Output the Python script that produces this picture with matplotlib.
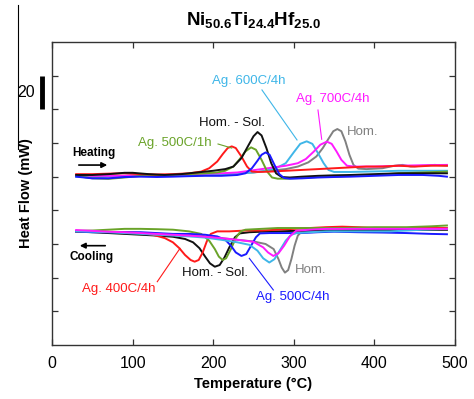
import matplotlib
matplotlib.use("Agg")
import matplotlib.pyplot as plt

plt.rcParams['font.family'] = ['Liberation Sans', 'DejaVu Sans']
plt.rcParams['mathtext.fontset'] = 'custom'
plt.rcParams['mathtext.rm'] = 'Liberation Sans'
plt.rcParams['mathtext.bf'] = 'Liberation Sans:bold'

# ---- heating curves (temperature in C, heat flow in mW, offset) ----
h_red_t = [30, 50, 70, 90, 110, 130, 150, 170, 185, 195, 205, 212, 218, 223, 228, 235, 242, 248, 255,
           270, 290, 310, 330, 350, 370, 390, 410, 430, 450, 470, 490]
h_red_q = [101.5, 101.5, 101.8, 102, 101.5, 101.3, 101.5, 102, 103, 105, 109, 113.5, 117, 118, 117, 112,
           106, 103, 102.8, 103, 103.5, 104, 104.5, 105, 105.5, 106, 106, 106.5, 106, 106.5, 106.5]

h_blk_t = [30, 50, 70, 90, 100, 120, 140, 160, 180, 200, 215, 225, 235, 243, 250, 255, 260, 266, 272,
           278, 285, 295, 310, 330, 350, 370, 400, 430, 460, 490]
h_blk_q = [101, 101, 101.5, 102.3, 102.3, 101.5, 101, 101.5, 102.5, 103.5, 104.5, 106, 111, 118, 124,
           126.5, 124.5, 117, 108, 102, 99.8, 99.5, 100, 100.5, 100.8, 101, 101.5, 102, 102, 102]

h_grn_t = [30, 50, 70, 90, 110, 130, 150, 170, 190, 205, 215, 225, 233, 240, 247, 253, 260, 267, 273,
           280, 290, 310, 330, 350, 370, 400, 430, 460, 490]
h_grn_q = [100.5, 99, 98.7, 99.5, 100.5, 101, 101, 101.5, 102, 102.5, 103.5, 106, 110.5, 115, 117.4,
           116, 110, 103, 99.5, 98.8, 98.8, 99.3, 99.8, 100, 100.5, 101, 102, 102.5, 103]

h_blu_t = [30, 50, 70, 90, 110, 130, 150, 170, 190, 210, 230, 240, 248, 255, 260, 265, 270, 276, 282,
           288, 295, 310, 330, 350, 370, 400, 430, 460, 480, 490]
h_blu_q = [100, 99, 99, 99.8, 100, 99.8, 100, 100.3, 100.5, 100.5, 101, 102, 105, 109.5, 113, 114.4,
           113, 107, 101.5, 99.2, 98.8, 99, 99.5, 99.8, 100, 100.5, 101, 101, 100.5, 100]

h_cyn_t = [30, 50, 70, 90, 110, 130, 150, 170, 190, 210, 230, 250, 265, 280, 290, 300, 308, 316, 323,
           330, 337, 343, 350, 370, 390, 410, 430, 450, 470, 490]
h_cyn_q = [100, 99.5, 100, 100.5, 100.5, 100.5, 100.5, 101, 101.2, 101.5, 102, 102.5, 103.5, 105.5,
           108, 114.5, 119.5, 121, 119.5, 114, 108, 104, 102.8, 102.8, 103, 103.2, 103.5, 103.5,
           103.5, 103.5]

h_mag_t = [30, 50, 70, 90, 110, 130, 150, 170, 190, 210, 230, 245, 260, 275, 290, 305, 315, 325, 333,
           341, 347, 353, 359, 366, 375, 400, 430, 460, 490]
h_mag_q = [101, 100.5, 100.5, 100.5, 101, 101, 101, 101.5, 101.8, 102, 102.5, 103.5, 104.5, 105.5,
           106.5, 108, 110.5, 115, 119, 120.8, 119.5, 115, 110, 106.5, 106, 106, 106.5, 106.8, 107]

h_gry_t = [30, 50, 70, 90, 110, 130, 150, 170, 190, 210, 230, 250, 270, 290, 305, 318, 328, 336, 343,
           349, 354, 359, 364, 369, 374, 380, 390, 410, 425, 435, 445, 460, 475, 490]
h_gry_q = [100.5, 100.5, 100.5, 100.5, 100.7, 101, 101, 101, 101.3, 101.5, 102, 102.5, 103.5, 104.5,
           106, 108.5, 112, 117, 122.5, 127, 128.3, 127, 121, 113, 107, 104.8, 104.5, 105, 106.5, 107,
           106, 106.5, 107, 106.5]

# ---- cooling curves ----
c_red_t = [30, 50, 70, 90, 110, 125, 140, 150, 158, 165, 172, 177, 182, 187, 192, 197, 205, 220, 240,
           260, 280, 300, 320, 340, 360, 380, 400, 420, 440, 460, 490]
c_red_q = [67.5, 67.5, 67.2, 67, 66.5, 65.5, 63.5, 61, 57.5, 53.5, 50.5, 49.5, 50.5, 55, 61.5, 66,
           67.5, 67.5, 68, 68, 68.5, 69, 69.5, 70, 70.3, 70, 69.5, 69.5, 69.5, 69.5, 69.5]

c_blk_t = [30, 50, 70, 90, 110, 130, 150, 165, 175, 183, 190, 196, 202, 208, 214, 220, 227, 233, 245,
           260, 280, 300, 330, 360, 400, 440, 490]
c_blk_q = [67.3, 67, 66.5, 66, 65.5, 65, 64.3, 63, 61, 57.5, 52.5, 48.5, 46.5, 47.5, 52, 58, 64, 66.3,
           67, 67.3, 67.5, 67.8, 68, 68, 68.3, 68.5, 68.5]

c_grn_t = [30, 50, 70, 90, 110, 130, 150, 170, 185, 195, 202, 207, 211.7, 216, 222, 228, 234, 240, 260,
           280, 300, 330, 360, 400, 440, 470, 490]
c_grn_q = [67.8, 68, 68.5, 69, 69, 68.8, 68.5, 67.5, 66, 62, 57, 52.5, 50.5, 51.5, 57, 63.5, 67.5,
           68.5, 69, 69.5, 69.5, 69.5, 69.5, 70, 70, 70.5, 71]

c_blu_t = [30, 50, 70, 90, 110, 130, 150, 170, 190, 205, 215, 222, 228, 235, 241, 247, 253, 258, 270,
           290, 310, 330, 350, 380, 410, 440, 470, 490]
c_blu_q = [67.5, 67, 67, 67, 67, 66.5, 66, 66, 65.5, 64.5, 62.5, 59, 55, 52.9, 54, 59, 64, 66.3, 66.5,
           66.5, 66.5, 67, 67.3, 67, 66.8, 66.5, 66, 65.8]

c_cyn_t = [30, 50, 70, 90, 110, 130, 150, 170, 190, 210, 230, 245, 255, 262, 269.6, 276, 283, 290, 297,
           303.5, 320, 340, 360, 380, 400, 420, 440, 460, 490]
c_cyn_q = [67.5, 67.3, 67, 66.5, 66, 65.5, 65, 64.5, 63.8, 62.5, 61, 59.5, 56, 51.5, 49, 51, 56.5, 62,
           65.5, 66.5, 67, 67.5, 67.5, 67.5, 67.5, 67.5, 68, 68.5, 69]

c_mag_t = [30, 50, 70, 90, 110, 130, 150, 170, 190, 210, 230, 250, 262, 268, 274.6, 281, 288, 295, 303,
           320, 340, 360, 390, 420, 450, 490]
c_mag_q = [68.3, 67.8, 67.3, 67, 66.5, 66, 65.5, 65, 64.3, 63.5, 62.5, 61.3, 58, 55, 52.9, 54.5, 59,
           64.5, 67.9, 68.5, 69, 69, 69, 69, 69, 69]

c_gry_t = [30, 50, 70, 90, 110, 130, 150, 170, 190, 210, 230, 250, 265, 275, 281, 285, 289, 293, 297,
           301, 305, 310, 330, 350, 380, 410, 440, 490]
c_gry_q = [67.5, 67.2, 67, 66.8, 66.5, 66, 65.5, 65, 64.5, 63.5, 62.5, 61.5, 60, 57, 51, 46, 43, 44.5,
           51, 59, 65, 67.5, 68, 68, 68.3, 68.3, 68.5, 68.5]

RED, BLK, GRN, BLU = '#ff1a1a', '#111111', '#6aa329', '#1a1aff'
CYN, MAG, GRY = '#3fb6e8', '#ff1aff', '#808080'

fig = plt.figure(figsize=(4.74, 3.99), dpi=100)
ax = fig.add_axes([52 / 474, 54 / 399, 403 / 474, 303 / 399])

lw = 1.4
for t, q, c in [(h_gry_t, h_gry_q, GRY), (h_cyn_t, h_cyn_q, CYN), (h_mag_t, h_mag_q, MAG),
                (h_grn_t, h_grn_q, GRN), (h_red_t, h_red_q, RED), (h_blk_t, h_blk_q, BLK),
                (h_blu_t, h_blu_q, BLU)]:
    ax.plot(t, q, color=c, lw=lw)
for t, q, c in [(c_gry_t, c_gry_q, GRY), (c_blk_t, c_blk_q, BLK), (c_red_t, c_red_q, RED),
                (c_grn_t, c_grn_q, GRN), (c_blu_t, c_blu_q, BLU), (c_cyn_t, c_cyn_q, CYN),
                (c_mag_t, c_mag_q, MAG)]:
    ax.plot(t, q, color=c, lw=lw)

ax.set_xlim(0, 500)
ax.set_ylim(0, 180)
ax.set_xticks([0, 100, 200, 300, 400, 500])
ax.set_yticks(range(20, 180, 20))
ax.set_yticklabels([])
ax.tick_params(direction='in', top=True, right=True, length=4, width=0.9,
               colors='#333333', labelcolor='black', labelsize=11.5, pad=8)
for s in ax.spines.values():
    s.set_color('#333333')
    s.set_linewidth(1.0)

ax.set_xlabel('Temperature (°C)', fontsize=10.5, fontweight='bold', labelpad=4)
ax.set_ylabel('Heat Flow (mW)', fontsize=10.5, fontweight='bold', labelpad=6)
ax.set_title(r'$\mathbf{Ni_{50.6}Ti_{24.4}Hf_{25.0}}$', fontsize=13.5, pad=12)

# scale bar
ax.plot([-12.4, -12.4], [140, 160], color='black', lw=3.5, clip_on=False, solid_capstyle='butt')
ax.text(-21, 150, '20', fontsize=11.5, ha='right', va='center')
fig.add_artist(plt.Line2D([17.5 / 474, 17.5 / 474], [394 / 399, 250 / 399], color='black', lw=0.8))

# heating / cooling markers
ax.text(24.8, 114, 'Heating', fontsize=8.5, fontweight='bold', va='center')
ax.annotate('', xy=(72, 106.9), xytext=(29.8, 106.9),
            arrowprops=dict(arrowstyle='-|>', color='black', lw=1.2, mutation_scale=8))
ax.text(22.3, 52.3, 'Cooling', fontsize=8.5, fontweight='bold', va='center')
ax.annotate('', xy=(31, 59), xytext=(69.5, 59),
            arrowprops=dict(arrowstyle='-|>', color='black', lw=1.2, mutation_scale=8))

fs = 9.5
ax.text(223, 132, 'Hom. - Sol.', fontsize=fs, color=BLK, ha='center', va='center')
ax.text(106.7, 120.2, 'Ag. 500C/1h', fontsize=fs, color=GRN, va='center')
ax.plot([206, 223], [119.4, 117], color=GRN, lw=0.8)
ax.text(198.5, 156.8, 'Ag. 600C/4h', fontsize=fs, color=CYN, va='center')
ax.plot([260.5, 304], [151.5, 121.8], color=CYN, lw=0.8)
ax.text(302.7, 146, 'Ag. 700C/4h', fontsize=fs, color=MAG, va='center')
ax.plot([330, 334.6], [139.6, 122.2], color=MAG, lw=0.8)
ax.text(366, 126.7, 'Hom.', fontsize=fs, color=GRY, va='center')

ax.text(36.8, 33, 'Ag. 400C/4h', fontsize=fs, color=RED, va='center')
ax.plot([130.6, 158.8], [37.6, 57.4], color=RED, lw=0.8)
ax.text(161, 43, 'Hom. - Sol.', fontsize=fs, color=BLK, va='center')
ax.text(301.5, 44.5, 'Hom.', fontsize=fs, color=GRY, va='center')
ax.text(253, 28.7, 'Ag. 500C/4h', fontsize=fs, color=BLU, va='center')
ax.plot([274.6, 244.8], [32.7, 51.5], color=BLU, lw=0.8)

fig.savefig('out.png', dpi=100)
